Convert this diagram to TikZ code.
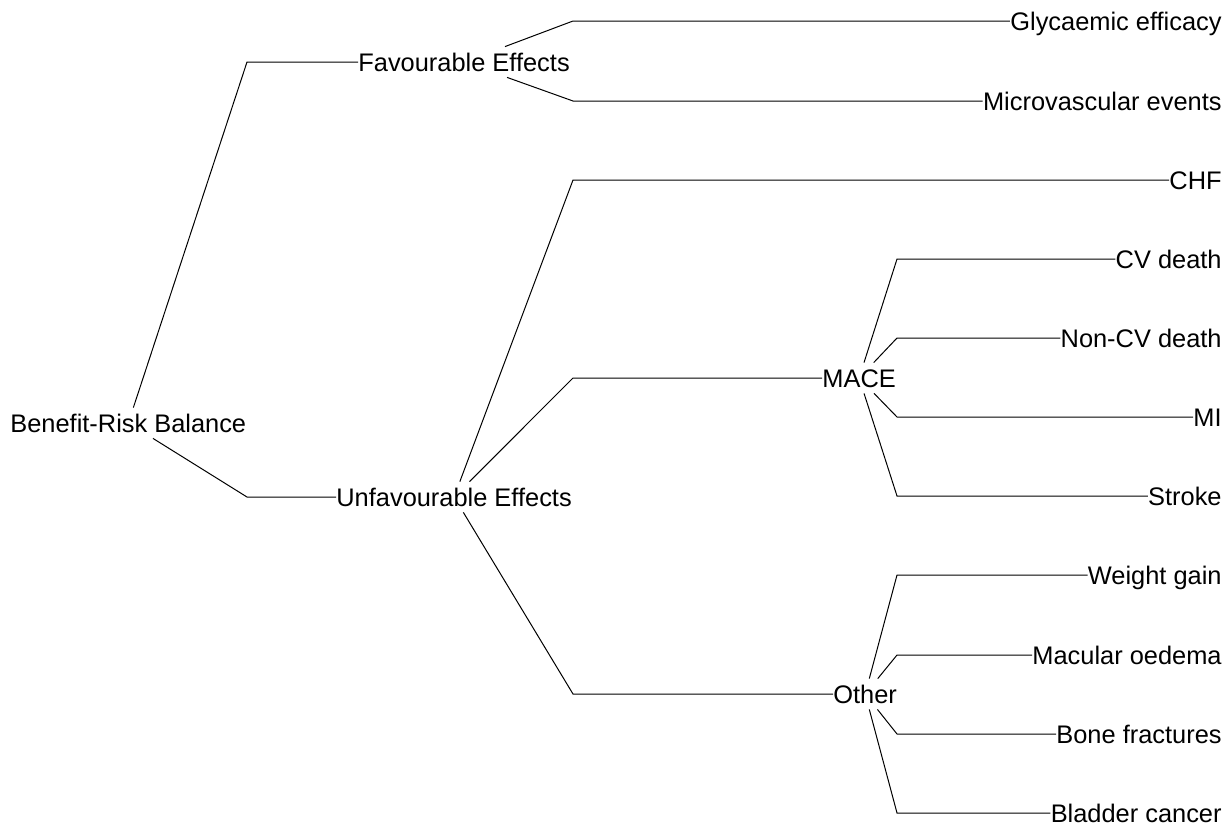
\documentclass[tikz,border=0pt]{standalone}
\usepackage{fontspec}
\setmainfont{Liberation Sans}

\begin{document}
\begin{tikzpicture}[x=0.5pt,y=-0.5pt]
	\tikzstyle{lbl}=[inner sep=0pt,minimum height=15pt,text height=9.1pt,text depth=0pt,
		font=\fontsize{12.7}{15}\selectfont]
	\tikzstyle{inner}=[lbl,anchor=west]
	\tikzstyle{leaf}=[lbl,anchor=east]
	\tikzstyle{edge}=[draw=black,line width=0.5pt]
	\useasboundingbox (0,0) rectangle (1229,825);
	% x of the elbows per level
	\coordinate (L1) at (247,0);
	\coordinate (L2) at (573,0);
	\coordinate (L3) at (897,0);
	\node[inner] (brb) at (10,423) {Benefit-Risk Balance};
	\node[inner] (fav) at (358,62) {Favourable Effects};
	\node[inner] (unfav) at (336,497) {Unfavourable Effects};
	\node[inner] (mace) at (822,378) {MACE};
	\node[inner] (other) at (833,694) {Other};
	\node[leaf] (chf) at (1222,180) {CHF};
	\draw[edge] (brb) -- (L1 |- fav) -- (fav.west);
	\draw[edge] (brb) -- (L1 |- unfav) -- (unfav.west);
	\foreach \n/\y/\t in {glyc/21/Glycaemic efficacy,micro/101/Microvascular events} {
		\node[leaf] (\n) at (1222,\y) {\t};
		\draw[edge] (fav) -- (L2 |- \n) -- (\n.west);
	}
	\draw[edge] (unfav) -- (L2 |- chf) -- (chf.west);
	\draw[edge] (unfav) -- (L2 |- mace) -- (mace.west);
	\draw[edge] (unfav) -- (L2 |- other) -- (other.west);
	\foreach \n/\y/\t in {cvd/259/CV death,ncvd/338/Non-CV death,mi/417/MI,stroke/496/Stroke} {
		\node[leaf] (\n) at (1222,\y) {\t};
		\draw[edge] (mace) -- (L3 |- \n) -- (\n.west);
	}
	\foreach \n/\y/\t in {wg/575/Weight gain,mo/655/Macular oedema,bf/734/Bone fractures,bc/813/Bladder cancer} {
		\node[leaf] (\n) at (1222,\y) {\t};
		\draw[edge] (other) -- (L3 |- \n) -- (\n.west);
	}
\end{tikzpicture}
\end{document}
